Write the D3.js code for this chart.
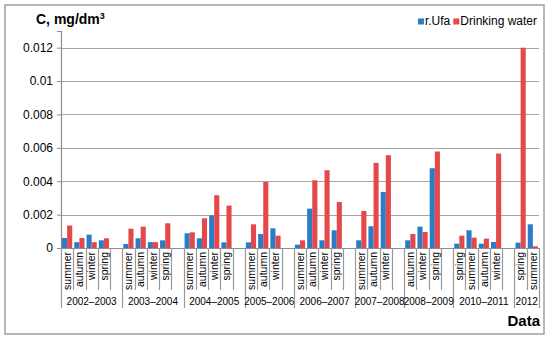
<!DOCTYPE html>
<html>
<head>
<meta charset="utf-8">
<script src="https://cdn.jsdelivr.net/npm/d3@7"></script>
<style>
  body { margin: 0; background: #fff; }
  svg { display: block; font-family: 'Liberation Sans', Arial, sans-serif; }
</style>
</head>
<body>
<svg id="chart" width="550" height="339"></svg>
<script>
const periods = ['2002–2003', '2003–2004', '2004–2005', '2005–2006', '2006–2007', '2007–2008', '2008–2009', '2010–2011', '2012']
const seasons = [
    ['summer', 'autumn', 'winter', 'spring'],
    ['summer', 'autumn', 'winter', 'spring'],
    ['summer', 'autumn', 'winter', 'spring'],
    ['summer', 'autumn', 'winter'],
    ['summer', 'autumn', 'winter', 'spring'],
    ['summer', 'autumn', 'winter'],
    ['autumn', 'winter', 'spring'],
    ['spring', 'summer', 'autumn', 'winter'],
    ['spring', 'summer']
]
const ufa = [
    [0.0006, 0.00035, 0.0008, 0.00046],
    [0.00024, 0.00058, 0.00035, 0.00046],
    [0.00088, 0.00058, 0.00195, 0.00034],
    [0.00034, 0.00084, 0.00118],
    [0.0002, 0.00236, 0.00046, 0.00106],
    [0.00046, 0.0013, 0.00336],
    [0.00046, 0.00128, 0.00478],
    [0.00026, 0.00106, 0.00026, 0.00036],
    [0.00032, 0.00142]
]
const drinking = [
    [0.00135, 0.0006, 0.00035, 0.00058],
    [0.00116, 0.00128, 0.00035, 0.00148],
    [0.00094, 0.00178, 0.00316, 0.00254],
    [0.00142, 0.00396, 0.00074],
    [0.00046, 0.00406, 0.00466, 0.00276],
    [0.00222, 0.0051, 0.00556],
    [0.00084, 0.00096, 0.00578],
    [0.00074, 0.00062, 0.00056, 0.00566],
    [0.012, 0.0001]
]
const yTicks = [0, 0.002, 0.004, 0.006, 0.008, 0.01, 0.012]
const seriesNames = ['r.Ufa', 'Drinking water']
const colors = ['#2b7cc6', '#e5484a']

// flatten into slots, one empty slot after each period except the last
const slots = []
const groupSpans = []
periods.forEach((p, gi) => {
    const start = slots.length
    seasons[gi].forEach((s, si) => {
        slots.push({id: `${gi}-${si}`, label: s, values: [ufa[gi][si], drinking[gi][si]]})
    })
    if (gi < periods.length - 1) slots.push({id: `${gi}-gap`, label: '', values: null})
    groupSpans.push({name: p, start: start, end: slots.length})
})

const svg = d3.select('#chart')
const margin = {left: 61, right: 11, top: 31, bottom: 91}
const W = 550, H = 339
const x0 = margin.left, x1 = W - margin.right
const yBottom = H - margin.bottom

svg.append('rect')
    .attr('x', 5).attr('y', 5).attr('width', 539).attr('height', 329)
    .attr('fill', '#fff').attr('stroke', '#a0a0a0').attr('stroke-width', 1.5)

const x = d3.scaleBand().domain(slots.map((d) => d.id)).range([x0, x1]).paddingInner(0).paddingOuter(0)
const xs = d3.scaleBand().domain([0, 1]).range([0, x.bandwidth()]).paddingInner(0).paddingOuter(0.2)
const y = d3.scaleLinear().domain([0, 0.013]).range([yBottom, margin.top])

// gridlines
svg.append('g').selectAll('line').data(yTicks.slice(1)).enter().append('line')
    .attr('x1', x0).attr('x2', x1)
    .attr('y1', (d) => Math.round(y(d)) + 0.5).attr('y2', (d) => Math.round(y(d)) + 0.5)
    .attr('stroke', '#a6a6a6').attr('stroke-width', 1.2)

// y axis
const yAxis = svg.append('g')
    .attr('transform', `translate(${x0},0)`)
    .call(d3.axisLeft(y).tickValues(yTicks).tickFormat((d) => d === 0 ? '0' : String(+d.toFixed(3))).tickSize(4).tickPadding(4))
yAxis.select('.domain').attr('stroke', '#8c8c8c').attr('stroke-width', 1.2)
yAxis.selectAll('.tick line').attr('stroke', '#8c8c8c')
yAxis.selectAll('.tick text').attr('font-size', 12).attr('fill', '#000')
    .attr('font-family', "'Liberation Sans', Arial, sans-serif")

// bars
const barG = svg.append('g')
slots.filter((d) => d.values).forEach((d) => {
    barG.selectAll(null).data(d.values).enter().append('rect')
        .attr('x', (v, i) => x(d.id) + xs(i))
        .attr('y', (v) => y(v))
        .attr('width', xs.bandwidth())
        .attr('height', (v) => yBottom - y(v))
        .attr('fill', (v, i) => colors[i])
})

// x axis line
svg.append('line')
    .attr('x1', x0).attr('x2', x1).attr('y1', yBottom + 0.5).attr('y2', yBottom + 0.5)
    .attr('stroke', '#8c8c8c').attr('stroke-width', 1.2)

// category dividers
const boundaries = d3.range(slots.length + 1)
const groupBounds = new Set([0].concat(groupSpans.map((g) => g.end)))
svg.append('g').selectAll('line').data(boundaries).enter().append('line')
    .attr('x1', (i) => Math.round(x0 + i * x.step()) + 0.5)
    .attr('x2', (i) => Math.round(x0 + i * x.step()) + 0.5)
    .attr('y1', yBottom)
    .attr('y2', (i) => groupBounds.has(i) ? 308 : 290)
    .attr('stroke', '#9a9a9a').attr('stroke-width', 1.2)

// season labels
svg.append('g').selectAll('text').data(slots.filter((d) => d.label)).enter().append('text')
    .attr('transform', (d) => `translate(${x(d.id) + x.bandwidth() / 2},252) rotate(-90)`)
    .attr('text-anchor', 'end')
    .attr('dy', '0.35em')
    .attr('font-size', 10.5)
    .text((d) => d.label)

// period labels
svg.append('g').selectAll('text').data(groupSpans).enter().append('text')
    .attr('x', (g) => x0 + (g.start + g.end) / 2 * x.step())
    .attr('y', 305)
    .attr('text-anchor', 'middle')
    .attr('font-size', 10)
    .text((g) => g.name)

// axis titles
const yTitle = svg.append('text').attr('x', 36).attr('y', 24).attr('font-size', 14).attr('font-weight', 'bold')
yTitle.append('tspan').text('C, mg/dm')
yTitle.append('tspan').attr('font-size', 9).attr('dy', -5).text('3')

svg.append('text').attr('x', 540).attr('y', 326).attr('text-anchor', 'end')
    .attr('font-size', 15).attr('font-weight', 'bold').text('Data')

// legend, laid out from the right edge
const legend = svg.append('g')
let lx = 537
for (let i = seriesNames.length - 1; i >= 0; i--) {
    const t = legend.append('text').attr('y', 25).attr('font-size', 12).text(seriesNames[i])
    const w = t.node().getComputedTextLength()
    lx -= w
    t.attr('x', lx)
    legend.append('rect').attr('x', lx - 7).attr('y', 18.5).attr('width', 6).attr('height', 6).attr('fill', colors[i])
    lx -= 10
}
</script>
</body>
</html>
